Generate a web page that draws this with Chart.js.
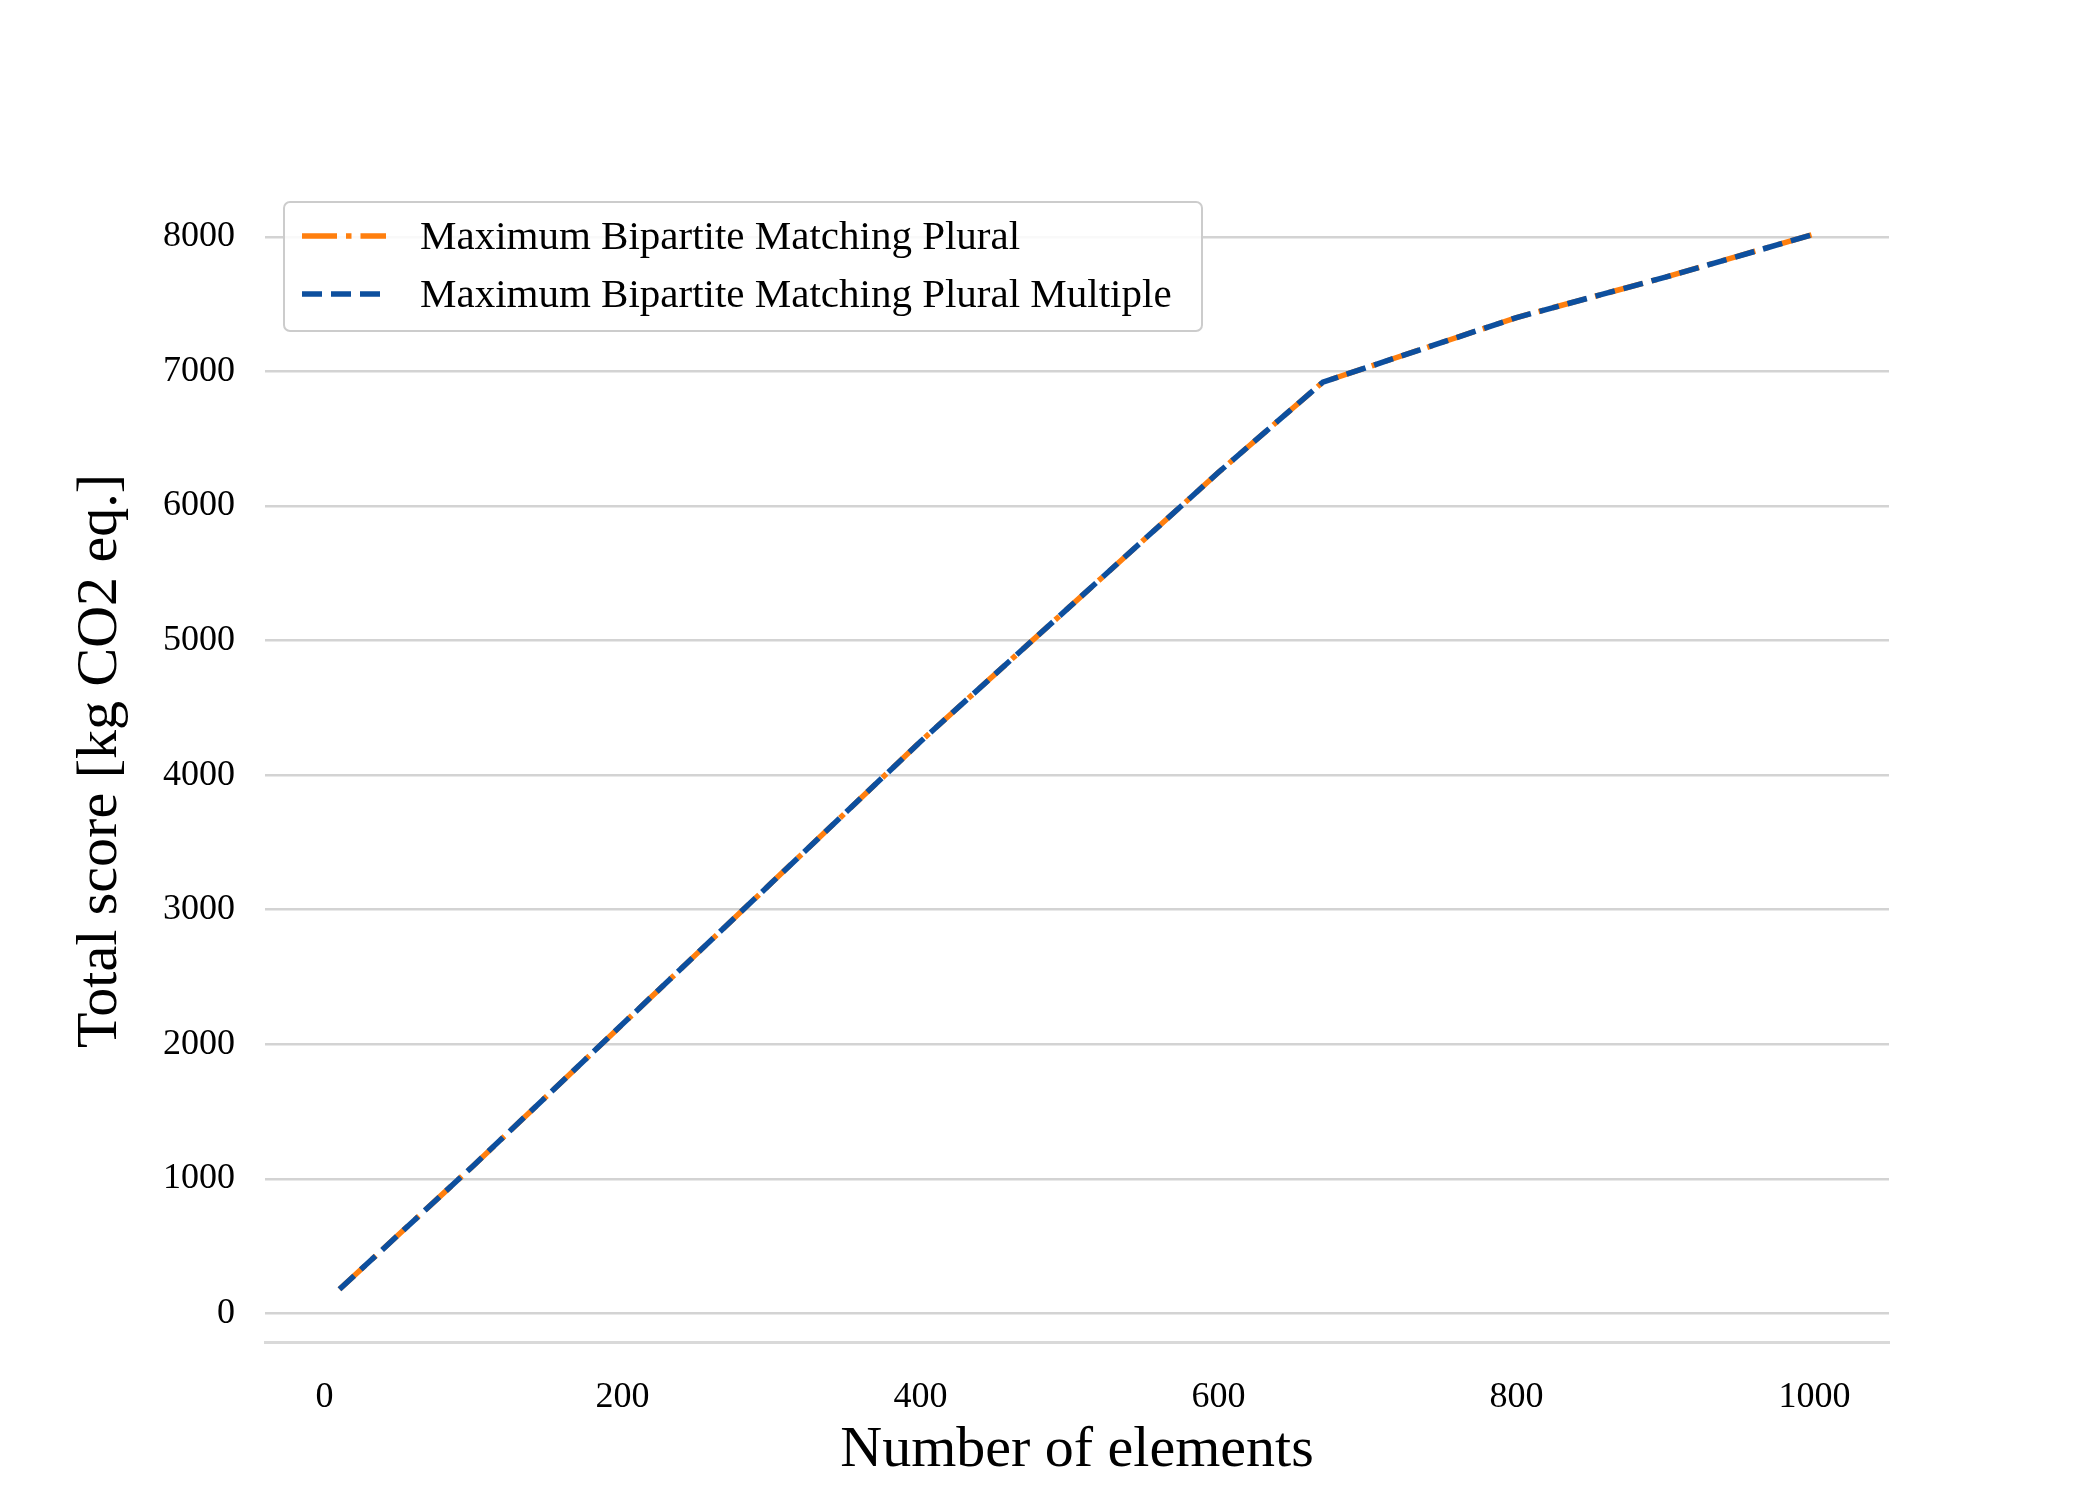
<!DOCTYPE html>
<html>
<head>
<meta charset="utf-8">
<script src="https://cdn.jsdelivr.net/npm/chart.js@4"></script>
<style>
  html, body { margin: 0; padding: 0; background: #fff; }
  #wrap { width: 2100px; height: 1500px; }
</style>
</head>
<body>
<div id="wrap"><canvas id="lineChart" width="2100" height="1500"></canvas></div>
<script>
// Data
const elements = [10, 100, 200, 300, 400, 500, 600, 670, 800, 900, 1000];
const plural = [180, 1100, 2150, 3200, 4250, 5250, 6250, 6920, 7400, 7700, 8020];
const pluralMultiple = [180, 1100, 2150, 3200, 4250, 5250, 6250, 6920, 7400, 7700, 8020];
const seriesNames = ['Maximum Bipartite Matching Plural', 'Maximum Bipartite Matching Plural Multiple'];
const yTicks = [0, 1000, 2000, 3000, 4000, 5000, 6000, 7000, 8000];
const xTicks = [0, 200, 400, 600, 800, 1000];

const FONT = '"Liberation Serif", "DejaVu Serif", serif';

// Legend box drawn inside the plot area, matplotlib-style
const boxLegend = {
  id: 'boxLegend',
  afterDraw(chart) {
    const c = chart.ctx;
    c.save();
    c.fillStyle = 'rgba(255,255,255,0.85)';
    c.strokeStyle = '#cccccc';
    c.lineWidth = 2;
    c.beginPath();
    c.roundRect(284, 202, 918, 129, 6);
    c.fill();
    c.stroke();
    chart.data.datasets.forEach((ds, i) => {
      const y = 236 + i * 58;
      c.strokeStyle = ds.borderColor;
      c.lineWidth = ds.borderWidth;
      c.setLineDash(ds.borderDash);
      c.beginPath();
      c.moveTo(302, y);
      c.lineTo(386, y);
      c.stroke();
      c.setLineDash([]);
      c.fillStyle = '#000';
      c.font = '41px ' + FONT;
      c.textBaseline = 'middle';
      c.fillText(ds.label, 420, y + 2);
    });
    c.restore();
  }
};

new Chart(document.getElementById('lineChart').getContext('2d'), {
  type: 'line',
  data: {
    datasets: [{
      label: seriesNames[0],
      data: elements.map((x, i) => ({ x: x, y: plural[i] })),
      borderColor: '#ff7f0e',
      borderWidth: 5.5,
      borderDash: [35, 9, 5.5, 9],
      pointRadius: 0,
      tension: 0,
      order: 1
    }, {
      label: seriesNames[1],
      data: elements.map((x, i) => ({ x: x, y: pluralMultiple[i] })),
      borderColor: '#0d4f9e',
      borderWidth: 5.5,
      borderDash: [20, 9],
      pointRadius: 0,
      tension: 0,
      order: 0
    }]
  },
  options: {
    responsive: false,
    animation: false,
    layout: { padding: { left: 0, right: 211, top: 180, bottom: 0 } },
    scales: {
      x: {
        type: 'linear',
        min: -40,
        max: 1050,
        afterBuildTicks: s => { s.ticks = xTicks.map(v => ({ value: v })); },
        afterFit: s => { s.height = 158; },
        grid: { display: false },
        border: { display: true, color: '#d9d9d9', width: 3 },
        ticks: { color: '#000', padding: 26, callback: v => String(v), font: { family: FONT, size: 36 } },
        title: {
          display: true,
          text: 'Number of elements',
          color: '#000',
          font: { family: FONT, size: 58 },
          padding: { top: 0, bottom: 14 }
        }
      },
      y: {
        min: -212,
        max: 8422,
        afterBuildTicks: s => { s.ticks = yTicks.map(v => ({ value: v })); },
        afterFit: s => { s.width = 265; },
        grid: { color: '#d3d3d3', lineWidth: 2.5, drawTicks: false },
        border: { display: false },
        ticks: { color: '#000', padding: 30, callback: v => String(v), font: { family: FONT, size: 36 } },
        title: {
          display: true,
          text: 'Total score [kg CO2 eq.]',
          color: '#000',
          font: { family: FONT, size: 58 },
          padding: { top: 66, bottom: 0 }
        }
      }
    },
    plugins: {
      legend: { display: false },
      tooltip: { enabled: false }
    }
  },
  plugins: [boxLegend]
});
</script>
</body>
</html>
